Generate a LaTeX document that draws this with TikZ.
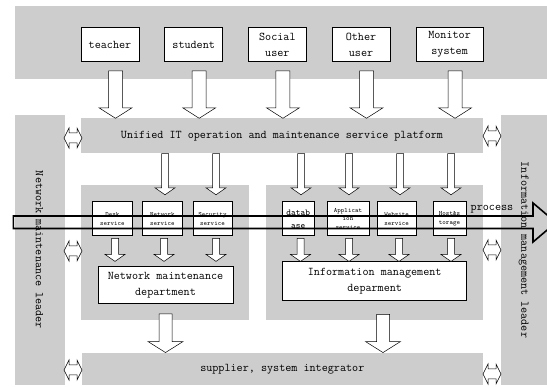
\documentclass[tikz,border=0pt]{standalone}
\usepackage{tikz}
\usetikzlibrary{calc}
\definecolor{bandgray}{RGB}{205,205,205}

\begin{document}
\begin{tikzpicture}[x=1pt,y=-1pt,
  mono/.style={font=\ttfamily\fontsize{11.8}{16}\selectfont},
  band/.style={fill=bandgray,draw=none,inner sep=0pt},
  ubox/.style={mono,draw,line width=0.6pt,fill=white,minimum width=58pt,minimum height=34pt,inner sep=1pt,align=center},
  sbox/.style={draw,line width=0.6pt,fill=white,minimum height=34pt,inner sep=0pt,align=center,font=\ttfamily\fontsize{6.6}{8.5}\selectfont},
  dbox/.style={mono,draw,line width=0.6pt,fill=white,inner sep=0pt,align=center},
  blk/.style n args={3}{draw,line width=0.5pt,fill=white,to path={let \p1=(\tikztostart),\p2=(\tikztotarget) in
    -- (\x1-#1,\y1) -- (\x1-#1,\y2+#3) -- (\x1-#2,\y2+#3) -- (\x1,\y2) -- (\x1+#2,\y2+#3) -- (\x1+#1,\y2+#3) -- (\x1+#1,\y1) -- cycle}},
  big/.style={blk={7pt}{16.5pt}{10.5pt}},
  small/.style={blk={3.5pt}{10pt}{7pt}},
  lrarrow/.pic={\draw[line width=0.5pt,fill=white] (-9,0) -- (-4,-10) -- (-4,-5) -- (4,-5) -- (4,-10) -- (9,0) -- (4,10) -- (4,5) -- (-4,5) -- (-4,10) -- cycle;}]
\useasboundingbox (0,0) rectangle (547,387);

\fill[bandgray] (14.6,6) rectangle (547,79);
\fill[bandgray] (81,185) rectangle (249,320);
\fill[bandgray] (266,185) rectangle (483,320);
\node[band,mono,minimum width=402pt,minimum height=35pt] (uitp) at (282,136) {Unified IT operation and maintenance service platform};
\node[band,mono,minimum width=401.3pt,minimum height=32.3pt] (supplier) at (282.3,368.9) {supplier, system integrator};
\node[band,mono,rotate=-90,minimum width=270pt,minimum height=50pt] (nmlead) at (39.5,250) {Network maintenance leader};
\node[band,mono,rotate=-90,minimum width=270pt,minimum height=46.5pt] (imlead) at (523.75,250) {Information management leader};

\node[ubox] (teacher) at (110,44.7) {teacher};
\node[ubox] (student) at (193.7,44.7) {student};
\node[ubox] (social) at (277.4,44.7) {Social\\user};
\node[ubox] (other) at (361,44.7) {Other\\user};
\node[ubox,minimum width=67pt] (monitor) at (449.6,44.7) {Monitor\\system};

\node[sbox,minimum width=39.3pt] (desk) at (112.3,218.8) {Desk\\service};
\node[sbox,minimum width=39.3pt] (netsvc) at (162.3,218.8) {Network\\service};
\node[sbox,minimum width=39pt] (secsvc) at (212.5,218.8) {Security\\service};
\node[sbox,minimum width=31.5pt,font=\ttfamily\fontsize{9}{13}\selectfont] (dbsvc) at (298.2,218.8) {datab\\ase};
\node[sbox,minimum width=42pt] (appsvc) at (348,218.8) {Applicat\\ion\\service};
\node[sbox,minimum width=39.5pt] (websvc) at (396.7,218.8) {Website\\service};
\node[sbox,minimum width=33pt] (hostsvc) at (449.5,218.8) {Host\&s\\torage};

\node[dbox,minimum width=135pt,minimum height=37pt] (nmdept) at (165.5,285.2) {Network maintenance\\department};
\node[dbox,minimum width=184pt,minimum height=38.3pt] (imdept) at (374.7,280.9) {Information management\\deparment};

\draw[big] ([xshift=5.5pt,yshift=-9pt]teacher.south) to (uitp.north);
\draw[big] ([xshift=5.5pt,yshift=-9pt]student.south) to (uitp.north);
\draw[big] ([xshift=5.5pt,yshift=-9pt]social.south) to (uitp.north);
\draw[big] ([xshift=5.5pt,yshift=-9pt]other.south) to (uitp.north);
\draw[big] ([xshift=5.5pt,yshift=-9pt]monitor.south) to (uitp.north);

\draw[small] ([xshift=2.7pt]netsvc.north |- uitp.south) to ([yshift=6.7pt]netsvc.north);
\draw[small] ([xshift=3.5pt]secsvc.north |- uitp.south) to ([yshift=6.7pt]secsvc.north);
\draw[small] ([xshift=2.8pt]dbsvc.north |- uitp.south) to ([yshift=6.7pt]dbsvc.north);
\draw[small] ([xshift=1pt]appsvc.north |- uitp.south) to ([yshift=6.7pt]appsvc.north);
\draw[small] ([xshift=3.3pt]websvc.north |- uitp.south) to ([yshift=6.7pt]websvc.north);
\draw[small] ([xshift=1.5pt]hostsvc.north |- uitp.south) to ([yshift=6.7pt]hostsvc.north);

\draw[small] ([xshift=2.7pt,yshift=-2.3pt]desk.south) to ([yshift=5pt]nmdept.north);
\draw[small] ([xshift=1.7pt,yshift=-2.3pt]netsvc.south) to ([yshift=5pt]nmdept.north);
\draw[small] ([xshift=3.5pt,yshift=-2.3pt]secsvc.south) to ([yshift=5pt]nmdept.north);
\draw[small] ([xshift=2.3pt,yshift=-2.3pt]dbsvc.south) to (imdept.north);
\draw[small] ([xshift=1pt,yshift=-2.3pt]appsvc.south) to (imdept.north);
\draw[small] ([xshift=2.3pt,yshift=-2.3pt]websvc.south) to (imdept.north);
\draw[small] ([xshift=1.5pt,yshift=-2.3pt]hostsvc.south) to (imdept.north);

\draw[blk={6.5pt}{17.5pt}{11pt}] ([yshift=-10pt]nmdept.south) to (supplier.north);
\draw[blk={6.5pt}{17.5pt}{11pt}] ([xshift=8.3pt,yshift=-14pt]imdept.south) to (supplier.north);

\pic at (73,138) {lrarrow};
\pic at (73,251) {lrarrow};
\pic at (73,370) {lrarrow};
\pic at (492,136) {lrarrow};
\pic at (492,250) {lrarrow};
\pic at (492,374) {lrarrow};

\draw[line width=1.6pt] (13.3,216) -- (533,216) -- (533,203) -- (556,222.5) -- (533,242) -- (533,228.5) -- (13.3,228.5) -- cycle;
\node[mono,inner sep=0pt] (proc) at (492,209.5) {process};
\end{tikzpicture}
\end{document}
